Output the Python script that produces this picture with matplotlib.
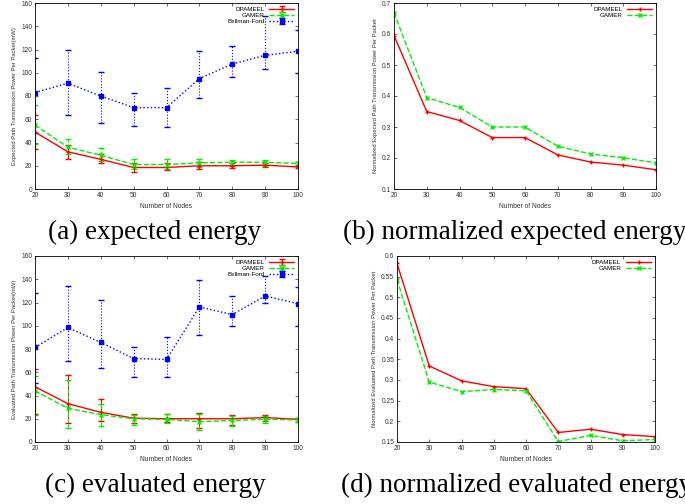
import numpy as np
import matplotlib
matplotlib.use("Agg")
import matplotlib.pyplot as plt

nodes = [20, 30, 40, 50, 60, 70, 80, 90, 100]

# (a) expected energy, mean and error range (low, high)
exp_dp = [49, 32, 25.5, 18.5, 18.5, 20, 20, 20.5, 19]
exp_dp_lo = [34, 26, 22, 15, 16, 17, 18, 19, 18]
exp_dp_hi = [64, 38, 30, 22, 22, 23, 22, 22, 21]
exp_ga = [55, 36, 29, 21, 21, 22.5, 23, 23, 22]
exp_ga_lo = [39, 30, 24, 17, 17, 19, 20, 20, 20]
exp_ga_hi = [72, 43, 35, 26, 26, 26, 25, 25, 23]
exp_bf = [83, 91, 80, 70, 70, 95, 107.5, 115, 118.5]
exp_bf_lo = [48, 64, 57, 54, 53, 78, 96, 103, 100]
exp_bf_hi = [113, 120, 101, 83, 87, 119, 123, 149, 137]

# (b) normalized expected energy
nexp_dp = [0.595, 0.35, 0.321, 0.266, 0.266, 0.21, 0.187, 0.177, 0.162]
nexp_ga = [0.668, 0.395, 0.363, 0.30, 0.30, 0.238, 0.213, 0.201, 0.184]

# (c) evaluated energy
ev_dp = [47.5, 33, 25.5, 20.5, 20, 20, 20, 21, 19.5]
ev_dp_lo = [24, 16, 18, 16, 17, 12, 15, 18, 17]
ev_dp_hi = [63, 58, 37, 24, 24, 25, 23, 23, 21]
ev_ga = [44, 29, 23.5, 20, 19.5, 17.5, 18.5, 19.5, 19]
ev_ga_lo = [23, 12, 14, 15, 16, 10, 14, 16, 17]
ev_ga_hi = [57, 53, 33, 23, 24, 24, 22, 22, 21]
ev_bf = [81.3, 98.5, 85.6, 71.8, 71, 116.2, 109.6, 125.6, 119]
ev_bf_lo = [51, 70, 64, 56, 56, 92, 100, 120, 100]
ev_bf_hi = [128, 134, 122, 82, 90, 139, 126, 143, 133]

# (d) normalized evaluated energy
nev_dp = [0.582, 0.334, 0.298, 0.284, 0.279, 0.173, 0.181, 0.168, 0.163]
nev_ga = [0.543, 0.295, 0.272, 0.277, 0.274, 0.151, 0.166, 0.153, 0.156]

RED = "#ff0000"
GREEN = "#00ee00"
BLUE = "#0000ff"

plt.rcParams["font.family"] = ["Liberation Sans", "DejaVu Sans"]

fig = plt.figure(figsize=(6.85, 5.04), dpi=100)
W, H = 685.0, 504.0


def mkax(x0, y0, x1, y1):
    return fig.add_axes([x0 / W, 1 - y1 / H, (x1 - x0) / W, (y1 - y0) / H])


def style(ax, ylabel, ylim, yticks, yfmt):
    ax.set_xlim(20, 100)
    ax.set_xticks(nodes)
    ax.set_ylim(*ylim)
    ax.set_yticks(yticks)
    ax.set_yticklabels([yfmt(v) for v in yticks])
    ax.tick_params(direction="in", top=True, right=True, labelsize=4.8,
                   length=2.5, width=0.5, pad=2, colors="#333333")
    for s in ax.spines.values():
        s.set_linewidth(0.6)
    ax.set_xlabel("Number of Nodes", fontsize=4.8, labelpad=3, color="#333333")
    ax.set_ylabel(ylabel, fontsize=4.2, labelpad=3, color="#333333")
    ax.legend(loc="upper right", frameon=False, fontsize=4.5, markerfirst=False,
              handlelength=4, borderaxespad=0.2, labelspacing=0.1, handletextpad=0.8)


def errs(mean, lo, hi):
    return [np.subtract(mean, lo), np.subtract(hi, mean)]


def err_panel(ax, dp, dlo, dhi, ga, glo, ghi, bf, blo, bhi):
    ax.errorbar(nodes, dp, yerr=errs(dp, dlo, dhi), color=RED, lw=1.0, marker="+",
                ms=3, capsize=2, elinewidth=0.8, label="DPAMEEL")
    e = ax.errorbar(nodes, ga, yerr=errs(ga, glo, ghi), color=GREEN, lw=1.0, ls="--",
                    marker="x", ms=2.5, capsize=2, elinewidth=0.8, label="GAMER")
    e[2][0].set_linestyle("--")
    e = ax.errorbar(nodes, bf, yerr=errs(bf, blo, bhi), color=BLUE, lw=1.0, ls=":",
                    marker="s", ms=2.5, capsize=2, elinewidth=0.8, label="Bellman-Ford")
    e[2][0].set_linestyle(":")


ax1 = mkax(35, 3, 298, 189)
err_panel(ax1, exp_dp, exp_dp_lo, exp_dp_hi, exp_ga, exp_ga_lo, exp_ga_hi,
          exp_bf, exp_bf_lo, exp_bf_hi)
style(ax1, "Expected Path Transmission Power Per Packet(mW)", (0, 160),
      list(range(0, 161, 20)), lambda v: "%d" % v)

ax2 = mkax(394, 3, 656, 189)
ax2.plot(nodes, nexp_dp, color=RED, lw=1.0, marker="+", ms=3, label="DPAMEEL")
ax2.plot(nodes, nexp_ga, color=GREEN, lw=1.0, ls="--", marker="x", ms=2.5, label="GAMER")
style(ax2, "Normalized Expected Path Transmission Power Per Packet", (0.1, 0.7),
      [0.1, 0.2, 0.3, 0.4, 0.5, 0.6, 0.7], lambda v: "%g" % v)

ax3 = mkax(35, 256, 298, 442)
err_panel(ax3, ev_dp, ev_dp_lo, ev_dp_hi, ev_ga, ev_ga_lo, ev_ga_hi,
          ev_bf, ev_bf_lo, ev_bf_hi)
style(ax3, "Evaluated Path Transmission Power Per Packet(mW)", (0, 160),
      list(range(0, 161, 20)), lambda v: "%d" % v)

ax4 = mkax(397, 256, 655, 442)
ax4.plot(nodes, nev_dp, color=RED, lw=1.0, marker="+", ms=3, label="DPAMEEL")
ax4.plot(nodes, nev_ga, color=GREEN, lw=1.0, ls="--", marker="x", ms=2.5, label="GAMER")
style(ax4, "Normalized Evaluated Path Transmission Power Per Packet", (0.15, 0.6),
      [0.15, 0.2, 0.25, 0.3, 0.35, 0.4, 0.45, 0.5, 0.55, 0.6], lambda v: "%g" % v)

cap = dict(fontsize=19.5, family="Liberation Serif", ha="center", va="center")
fig.text(155 / W, 1 - 232 / H, "(a) expected energy", **cap)
fig.text(515 / W, 1 - 232 / H, "(b) normalized expected energy", **cap)
fig.text(155 / W, 1 - 485 / H, "(c) evaluated energy", **cap)
fig.text(517 / W, 1 - 485 / H, "(d) normalized evaluated energy", **cap)

fig.savefig("out.png", dpi=100)
